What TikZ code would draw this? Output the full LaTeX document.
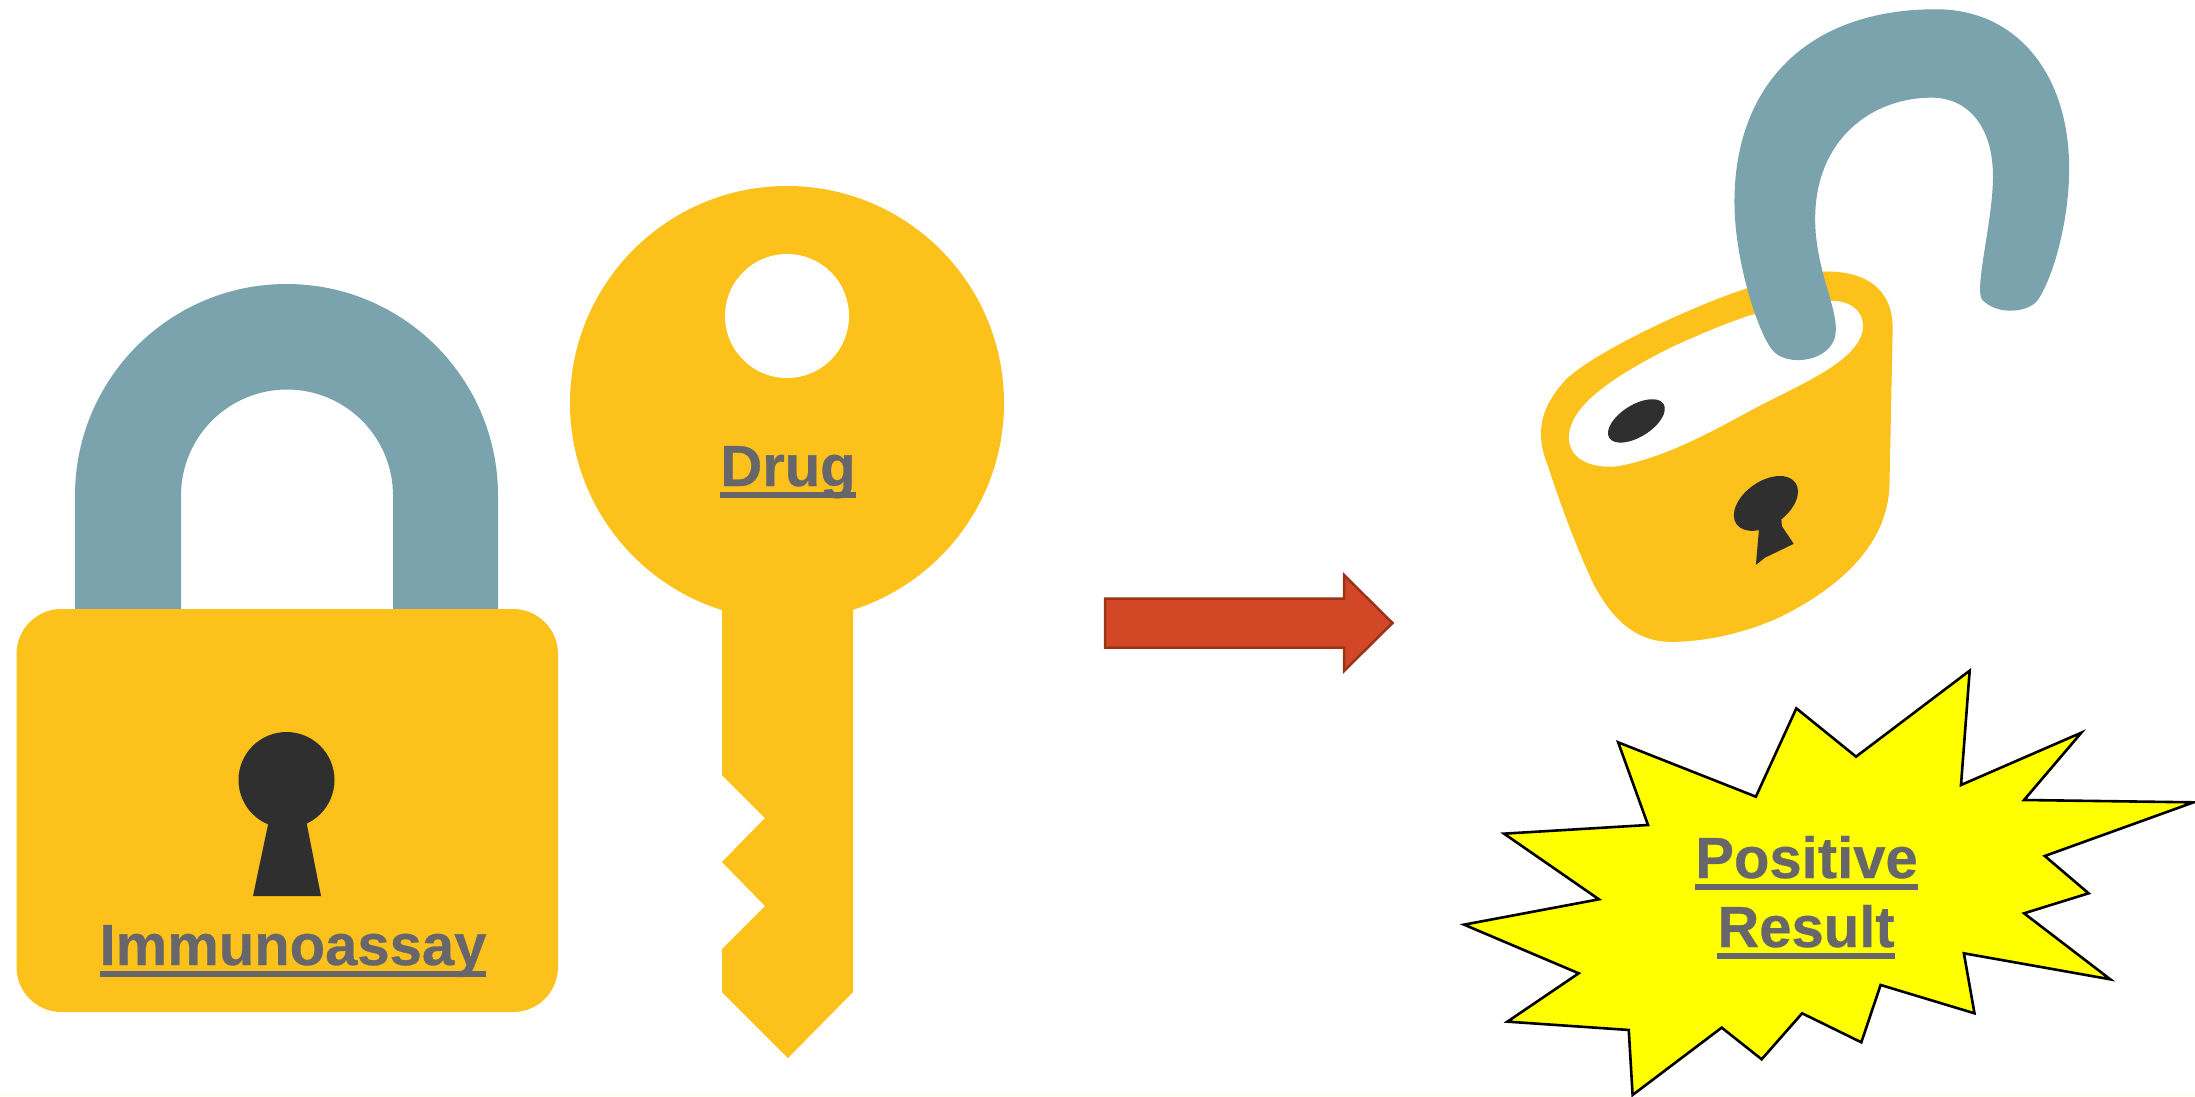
\documentclass[tikz,border=0pt]{standalone}
\usepackage{fontspec}
\setmainfont[BoldFeatures={FakeBold=0.5}]{Liberation Sans}
\definecolor{lockyellow}{HTML}{FDC11C}
\definecolor{shackle}{HTML}{7BA3AD}
\definecolor{holedark}{HTML}{2F2F2F}
\definecolor{labelgrey}{HTML}{67676B}
\definecolor{arrowred}{HTML}{D24726}
\definecolor{arrowedge}{HTML}{9A3419}
\definecolor{bottomband}{HTML}{FFFEF2}
\definecolor{burstyellow}{HTML}{FFFF00}
\newcommand{\ulabel}[1]{\setbox0\hbox{#1}\rlap{\rule[-12pt]{\wd0}{6.5pt}}\box0}
\tikzset{
  x=1pt,y=-1pt,
  lockfill/.style={fill=lockyellow,draw=none},
  barfill/.style={fill=shackle,draw=none},
  darkfill/.style={fill=holedark,draw=none},
  holefill/.style={fill=white,draw=none},
  label text/.style={anchor=base,inner sep=0pt,text=labelgrey,font=\fontsize{58}{60}\selectfont\bfseries},
  arrow shape/.style={fill=arrowred,draw=arrowedge,line width=2.5pt,line join=miter},
  burst/.style={fill=burstyellow,draw=black,line width=2.6pt,line join=miter},
}
\begin{document}
\begin{tikzpicture}
\useasboundingbox (0,0) rectangle (2195,1096);
\fill[white] (0,0) rectangle (2195,1096);
\fill[bottomband] (0,1093) rectangle (2195,1096);

% closed padlock
\fill[barfill] (75,609) -- (75,495.5) arc[start angle=180,end angle=360,radius=211.5]
  -- (498,609) -- (393,609) -- (393,495.5) arc[start angle=360,end angle=180,radius=106] -- (181,609) -- cycle;
\fill[lockfill,rounded corners=45pt] (16.5,609) rectangle (558,1012);
\fill[darkfill] (286.5,780) circle[radius=48];
\fill[darkfill] (269,820) -- (306,820) -- (321,896) -- (253,896) -- cycle;
\node[label text] (immuno) at (293,965) {\ulabel{Immunoassay}};

% key
\fill[lockfill] (787,403) circle[radius=217];
\fill[lockfill] (722,600) -- (853,600) -- (853,992) -- (788,1058) -- (722,992)
  -- (722,949) -- (765,906) -- (722,862) -- (765,818) -- (722,775) -- cycle;
\fill[holefill] (787,316) circle[radius=62];
\node[label text] (drug) at (788,486) {\ulabel{Drug}};

% arrow
\draw[arrow shape] (1105,598.5) -- (1344,598.5) -- (1344,575) -- (1392.5,623)
  -- (1344,671) -- (1344,647.5) -- (1105,647.5) -- cycle;

% open padlock
\begin{scope}[shift={(1480pt,0pt)},x=0.456pt,y=-0.4209pt]
  \fill[lockfill] (760,645) .. controls (850,645) and (905,690) .. (905,780)
    -- (898,1150) .. controls (895,1300) and (780,1400) .. (660,1465)
    .. controls (570,1510) and (480,1525) .. (420,1525)
    .. controls (340,1525) and (290,1470) .. (250,1390)
    .. controls (215,1310) and (180,1210) .. (150,1110)
    .. controls (120,1030) and (130,970) .. (190,900)
    .. controls (260,830) and (480,720) .. (600,680)
    .. controls (650,660) and (700,645) .. (760,645) -- cycle;
  \fill[holefill] (590,750) .. controls (680,725) and (740,712) .. (780,715)
    .. controls (830,720) and (850,760) .. (835,800)
    .. controls (810,860) and (730,900) .. (620,960)
    .. controls (540,1005) and (420,1085) .. (300,1108)
    .. controls (220,1115) and (180,1070) .. (200,1010)
    .. controls (220,950) and (300,890) .. (420,825)
    .. controls (480,795) and (540,768) .. (590,750) -- cycle;
  \fill[darkfill,rotate around={32:(343,1000)}] (343,1000) ellipse[x radius=32pt,y radius=16pt];
  \fill[darkfill,rotate around={35:(627,1196)}] (627,1196) ellipse[x radius=36pt,y radius=22pt];
  \fill[darkfill] (612,1255) -- (660,1220) -- (662,1250) -- (688,1292) -- (625,1325) -- (605,1342) -- cycle;
  \fill[barfill] (640,830) .. controls (610,790) and (558,620) .. (558,480)
    .. controls (558,200) and (720,22) .. (1000,22)
    .. controls (1180,22) and (1292,180) .. (1292,400)
    .. controls (1292,520) and (1260,650) .. (1225,710)
    .. controls (1205,745) and (1130,750) .. (1100,710)
    .. controls (1085,680) and (1125,520) .. (1125,420)
    .. controls (1125,300) and (1070,232) .. (990,232)
    .. controls (860,232) and (735,330) .. (735,520)
    .. controls (735,640) and (785,730) .. (780,790)
    .. controls (775,860) and (670,875) .. (640,830) -- cycle;
\end{scope}

% burst
\begin{scope}[shift={(1440pt,-650pt)},x=0.4815pt,y=-0.3333pt]
  \draw[burst] (370,277) -- (656,440) -- (740,175) -- (864,320) -- (1100,62) -- (1082,405)
    -- (1332,248) -- (1213,450) -- (1565,457) -- (1256,618) -- (1347,730) -- (1213,790)
    -- (1392,988) -- (1088,910) -- (1110,1090) -- (915,1005) -- (875,1177) -- (752,1090)
    -- (668,1228) -- (585,1133) -- (400,1335) -- (392,1140) -- (140,1115) -- (288,970)
    -- (50,824) -- (330,748) -- (133,551) -- (432,525) -- cycle;
\end{scope}
\node[label text] (positive) at (1806.5,878) {\ulabel{Positive}};
\node[label text] (result) at (1806,947) {\ulabel{Result}};
\end{tikzpicture}
\end{document}
